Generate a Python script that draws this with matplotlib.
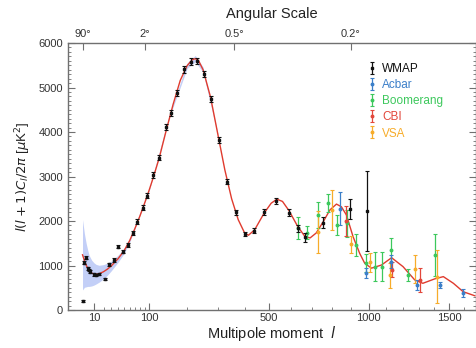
"""
CMB angular power spectrum: WMAP + small-scale experiments, with the
best-fit LCDM curve and cosmic-variance band.
"""
import numpy as np
import matplotlib
matplotlib.use("Agg")
import matplotlib.pyplot as plt

plt.rcParams["font.family"] = ["Liberation Sans", "DejaVu Sans"]
plt.rcParams["mathtext.fontset"] = "dejavusans"

# ---- best-fit model curve (l, l(l+1)Cl/2pi) ----
curve_l = [2, 3, 4, 5, 6, 8, 10, 12, 15, 20, 25, 30, 40, 50, 60, 70, 80, 90,
           100, 110, 124, 140, 160, 180, 200, 215, 225, 235, 250, 275, 300,
           325, 350, 375, 400, 415, 440, 480, 510, 535, 560, 590, 630, 665,
           690, 720, 755, 790, 824, 850, 877, 913, 950, 978, 1016, 1074, 1134,
           1203, 1276, 1327, 1404, 1460, 1527, 1594, 1674]
curve_d = [1240, 1110, 1010, 940, 880, 830, 810, 805, 815, 860, 920, 990, 1150,
           1330, 1560, 1830, 2110, 2400, 2690, 2990, 3420, 3980, 4620, 5160,
           5490, 5620, 5650, 5610, 5400, 4780, 3950, 3150, 2500, 2030, 1730,
           1680, 1800, 2180, 2400, 2490, 2440, 2230, 1880, 1650, 1620, 1730,
           1980, 2250, 2380, 2320, 2135, 1650, 1270, 1050, 940, 1010, 1175,
           975, 675, 600, 700, 750, 600, 410, 320]

# ---- cosmic variance band ----
band_l = [2, 3, 4, 5, 6, 8, 10, 12, 15, 20, 25, 30, 40, 50, 60, 100, 150,
          200, 225, 250, 300]
band_lo = [450, 510, 520, 530, 530, 540, 560, 585, 625, 700, 785, 880, 1070,
           1270, 1520, 2670, 4330, 5430, 5580, 5340, 3930]
band_hi = [2030, 1710, 1500, 1350, 1230, 1120, 1060, 1025, 1005, 1020, 1055,
           1100, 1230, 1390, 1600, 2710, 4390, 5550, 5720, 5460, 3970]

# ---- WMAP binned points ----
wmap_l = [2, 3, 4, 5, 6, 7, 10, 12, 15, 22, 27, 34, 40, 49, 57, 66, 74, 86,
          96, 110, 124, 140, 154, 171, 191, 211, 231, 253, 276, 304, 334, 365,
          401, 437, 480, 530, 591, 634, 665, 752, 895, 992]
wmap_d = [210, 1063, 1175, 937, 900, 861, 802, 787, 809, 697, 1027, 1124, 1423,
          1311, 1461, 1723, 1985, 2300, 2569, 3034, 3423, 4105, 4434, 4869,
          5409, 5580, 5596, 5303, 4742, 3820, 2884, 2195, 1708, 1782, 2210,
          2449, 2187, 1835, 1633, 1961, 2270, 2225]
wmap_e = [20, 30, 30, 30, 30, 30, 30, 30, 30, 30, 30, 40, 40, 40, 40, 45, 50,
          50, 55, 60, 60, 65, 70, 70, 75, 75, 75, 75, 75, 70, 60, 55, 55, 60,
          65, 70, 75, 85, 100, 120, 225, 895]

# ---- other experiments ----
acbar_l = [845, 983, 1128, 1293, 1436, 1590]
acbar_d = [2280, 825, 1085, 562, 562, 375]
acbar_e = [380, 110, 150, 110, 75, 90]

boom_l = [634, 673, 730, 778, 829, 880, 927, 983, 1034, 1080, 1128, 1232, 1408]
boom_d = [1836, 1737, 2135, 2398, 1910, 1948, 1461, 1049, 973, 973, 1348, 786, 1236]
boom_e = [250, 150, 300, 200, 220, 300, 245, 205, 320, 320, 260, 130, 470]

cbi_l = [877, 1134, 1307]
cbi_d = [2000, 910, 674]
cbi_e = [340, 170, 280]

vsa_l = [730, 800, 900, 1006, 1124, 1276, 1418]
vsa_d = [1750, 2247, 1480, 1068, 780, 918, 749]
vsa_e = [470, 450, 190, 206, 280, 318, 600]

top_l = [2, 90, 360, 900]
top_labels = ["90\u00b0", "2\u00b0", "0.5\u00b0", "0.2\u00b0"]
bottom_ticks = [10, 100, 500, 1000, 1500]
minor_ticks = [20, 30, 40, 50, 60, 70, 80, 90, 200, 300, 400, 600, 700, 800,
               900, 1100, 1200, 1300, 1400, 1600]

C_WMAP, C_ACBAR, C_BOOM, C_CBI, C_VSA = "#111111", "#3b7fc9", "#3cc85c", "#e2473b", "#f7ac2a"
AX_COL = "#707070"


def fwd(x):
    x = np.asarray(x, dtype=float)
    return np.sign(x) * np.abs(x) ** 0.6


def inv(y):
    y = np.asarray(y, dtype=float)
    return np.sign(y) * np.abs(y) ** (1 / 0.6)


fig = plt.figure(figsize=(4.76, 3.48), dpi=100)
ax = fig.add_axes([0.1429, 0.1092, 0.857, 0.7672])
ax.set_xscale("function", functions=(fwd, inv))
ax.set_xlim(-2.2, 1682)
ax.set_ylim(0, 6000)

ax.fill_between(band_l, band_lo, band_hi, color="#c3cff7", lw=0, zorder=1)
ax.plot(curve_l, curve_d, color="#e03b2e", lw=1.0, zorder=2)

eb_kw = dict(fmt="o", ms=1.8, elinewidth=0.9, capsize=1.5, capthick=0.8, zorder=3)
ax.errorbar(boom_l, boom_d, yerr=boom_e, color=C_BOOM, label="Boomerang", **eb_kw)
ax.errorbar(vsa_l, vsa_d, yerr=vsa_e, color=C_VSA, label="VSA", **eb_kw)
ax.errorbar(cbi_l, cbi_d, yerr=cbi_e, color=C_CBI, label="CBI", **eb_kw)
ax.errorbar(acbar_l, acbar_d, yerr=acbar_e, color=C_ACBAR, label="Acbar", **eb_kw)
ax.errorbar(wmap_l, wmap_d, yerr=wmap_e, color=C_WMAP, fmt="s", ms=2.0,
            elinewidth=0.9, capsize=1.5, capthick=0.8, zorder=4, label="WMAP")

# ticks
ax.set_xticks(bottom_ticks)
ax.set_xticklabels([str(t) for t in bottom_ticks])
ax.set_xticks(minor_ticks, minor=True)
ax.set_yticks(np.arange(0, 6001, 1000))
ax.set_yticks(np.arange(0, 6001, 100), minor=True)
ax.tick_params(which="both", direction="in", colors=AX_COL, labelcolor="#333333",
               labelsize=8, top=False, right=True)
ax.tick_params(which="major", length=5, width=0.8)
ax.tick_params(which="minor", length=2.5, width=0.6)
ax.tick_params(axis="x", which="major", pad=2)
for s in ax.spines.values():
    s.set_color(AX_COL)
    s.set_linewidth(1.0)

ax2 = ax.twiny()
ax2.set_xscale("function", functions=(fwd, inv))
ax2.set_xlim(ax.get_xlim())
ax2.set_xticks(top_l)
ax2.set_xticklabels(top_labels)
ax2.xaxis.set_minor_locator(matplotlib.ticker.NullLocator())
ax2.tick_params(direction="in", colors=AX_COL, labelcolor="#333333", labelsize=8,
                length=5, width=0.8, pad=3)
for s in ax2.spines.values():
    s.set_visible(False)

ax2.set_xlabel("Angular Scale", fontsize=10.5, color="#222222", labelpad=8)
ax.set_xlabel("Multipole moment  $l$", fontsize=10.5, color="#222222", labelpad=1)
ax.set_ylabel(r"$l(l+1)C_l/2\pi$ [$\mu$K$^2$]", fontsize=9.5, color="#222222", labelpad=4)

handles, labels = ax.get_legend_handles_labels()
order = ["WMAP", "Acbar", "Boomerang", "CBI", "VSA"]
hmap = dict(zip(labels, handles))
ax.legend([hmap[k] for k in order], order, loc="upper left",
          bbox_to_anchor=(0.71, 0.965), frameon=False, fontsize=8.5,
          handlelength=0.6, handletextpad=0.6, labelspacing=0.35,
          labelcolor="linecolor")

fig.savefig("out.png", dpi=100)
